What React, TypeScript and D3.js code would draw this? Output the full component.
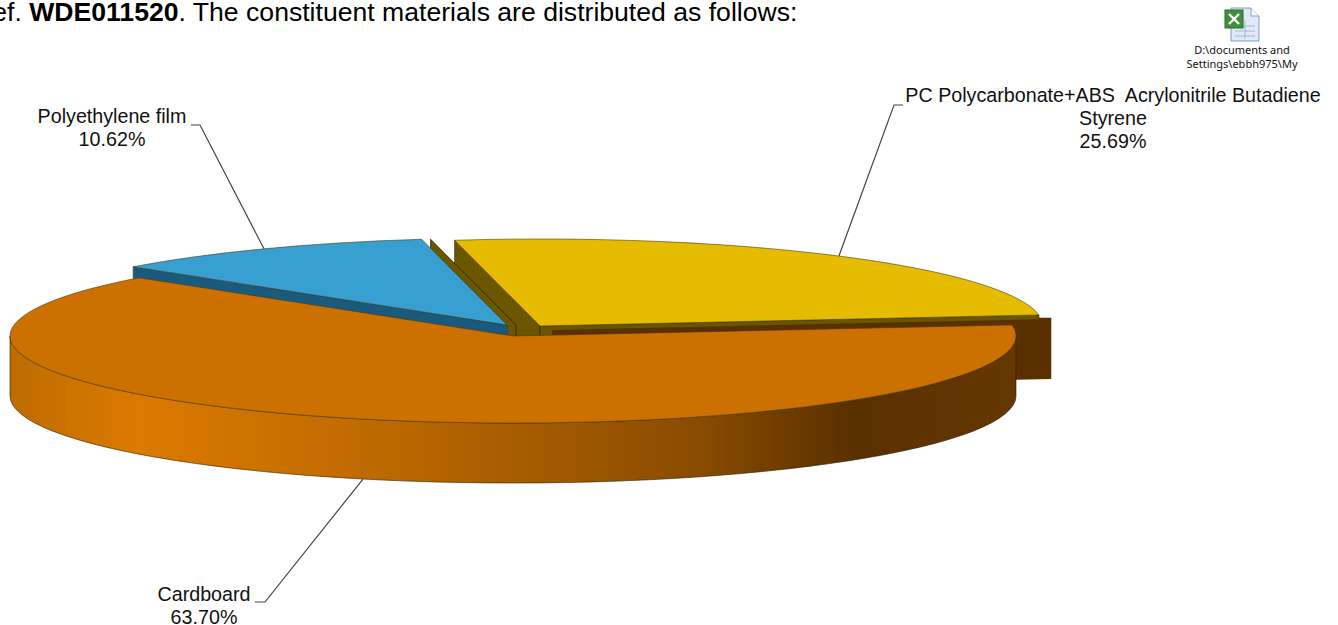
import { useMemo } from 'react';
import * as d3 from 'd3';

const categories = ['Cardboard', 'Polyethylene film', 'PC Polycarbonate+ABS  Acrylonitrile Butadiene Styrene'];
const labelLines = [['Cardboard'], ['Polyethylene film'], ['PC Polycarbonate+ABS  Acrylonitrile Butadiene', 'Styrene']];
const values = [63.7, 10.62, 25.69];
const topColors = ['#cc7000', '#38a0d0', '#e6bc00'];
const offsets = [[0, 0], [-6, -11], [27, -10]];
const labelPos = [[204, 601], [112, 123], [1113, 102]];
const elbows = [[265, 602], [200, 125], [894, 105]];
const stubs = [[255, 602], [191, 125], [903, 105]];

const width = 1338;
const height = 625;
const cx = 513;
const cy = 336;
const rx = 503;
const ry = 87;
const depth = 60;
const startDeg = -7.3;

const rad = (d: number) => (d * Math.PI) / 180;

// angles from d3.pie are clockwise from 12 o'clock
const pieGen = d3
  .pie<number>()
  .sort(null)
  .startAngle(rad(startDeg + 90))
  .endAngle(rad(startDeg + 90 + 360));

const arcGen = d3.arc<d3.PieArcDatum<number>>().innerRadius(0).outerRadius(rx);

const project = (a: number, ox = 0, oy = 0, r = rx) => [
  cx + ox + r * Math.sin(a),
  cy + oy - (r * ry * Math.cos(a)) / rx,
];

const line = d3.line();

const quad = (a: number, ox: number, oy: number, d: number) => {
  const p = project(a, ox, oy);
  const c = [cx + ox, cy + oy];
  return line([p as [number, number], c as [number, number], [c[0], c[1] + d], [p[0], p[1] + d]]) + 'Z';
};

const rimPath = (a0: number, a1: number, ox = 0, oy = 0, r = rx) => {
  const pts = d3.range(0, 61).map((i) => project(a0 + ((a1 - a0) * i) / 60, ox, oy, r) as [number, number]);
  const low = pts.map((p) => [p[0], p[1] + depth] as [number, number]).reverse();
  return line([...pts, ...low]) + 'Z';
};

const edge = '#2a1c00';

export default function App() {
  const slices = useMemo(() => pieGen(values), []);
  const [orange, blue, yellow] = slices;
  const face = (s: d3.PieArcDatum<number>, i: number) => (
    <path
      d={arcGen(s) as string}
      transform={`translate(${cx + offsets[i][0]},${cy + offsets[i][1]}) scale(1,${ry / rx})`}
      fill={topColors[i]}
      stroke="#4a3a10"
      strokeWidth={0.6}
      vectorEffect="non-scaling-stroke"
    />
  );
  const yTip = project(yellow.endAngle, offsets[2][0], offsets[2][1]);

  return (
    <svg
      width={width}
      height={height}
      viewBox={`0 0 ${width} ${height}`}
      style={{ position: 'absolute', left: 0, top: 0, display: 'block', background: '#fff' }}
    >
      <defs>
        <linearGradient id="rim" gradientUnits="userSpaceOnUse" x1={cx - rx} x2={cx + rx} y1={0} y2={0}>
          <stop offset="0" stopColor="#bd6c00" />
          <stop offset="0.13" stopColor="#dc7a00" />
          <stop offset="0.4" stopColor="#b86600" />
          <stop offset="0.68" stopColor="#8a4c00" />
          <stop offset="0.84" stopColor="#5a3000" />
          <stop offset="1" stopColor="#663800" />
        </linearGradient>
      </defs>

      <text x={-16.6} y={21} fontFamily="Liberation Sans" fontSize={26.6} fill="#000">
        ref. <tspan fontWeight="bold">WDE011520</tspan>. The constituent materials are distributed as follows:
      </text>

      {/* embedded workbook icon */}
      <g>
        <path d="M1231 8H1251L1259 16V41H1231Z" fill="#dfe9f7" stroke="#7d9cc8" strokeWidth={1} />
        <path d="M1251 8V16H1259" fill="#fff" stroke="#7d9cc8" strokeWidth={1} />
        <path d="M1235 26H1255M1235 31H1255M1235 36H1255M1245 20V39" stroke="#9db6d8" strokeWidth={1} fill="none" />
        <rect x={1225} y={10} width={18} height={18} fill="#3f8f3c" stroke="#2c6b2b" />
        <path d="M1229 14L1239 24M1239 14L1229 24" stroke="#fff" strokeWidth={2.4} />
        <text x={1242} y={54} textAnchor="middle" fontFamily="Noto Sans" fontSize={11} fill="#111">
          D:\documents and
        </text>
        <text x={1242} y={68} textAnchor="middle" fontFamily="Noto Sans" fontSize={11} fill="#111">
          Settings\ebbh975\My
        </text>
      </g>

      {/* walls, back to front */}
      <path
        d={quad(yellow.startAngle, offsets[2][0], offsets[2][1], depth)}
        fill="#6b5600"
        stroke={edge}
        strokeWidth={0.6}
      />
      <rect
        x={yTip[0] - 30}
        y={cy + offsets[2][1] - 8}
        width={cx + offsets[2][0] + rx + 8 - (yTip[0] - 30)}
        height={depth}
        fill="#5a3000"
        stroke="#3a2000"
        strokeWidth={0.5}
      />
      <path d={quad(yellow.endAngle, offsets[2][0], offsets[2][1], depth)} fill="#6b5600" stroke={edge} strokeWidth={0.6} />
      <path d={quad(yellow.endAngle, offsets[2][0] + 12, offsets[2][1] + 4, depth)} fill="#5a3000" />
      <path
        d={quad(blue.endAngle, offsets[1][0] + 9, offsets[1][1], depth)}
        fill="#6b5600"
        stroke={edge}
        strokeWidth={0.8}
      />
      <path d={quad(blue.startAngle, offsets[1][0], offsets[1][1], depth)} fill="#1a5a7c" stroke="#123c52" strokeWidth={0.6} />
      {face(blue, 1)}
      {face(yellow, 2)}

      <path d={rimPath(rad(90), rad(270))} fill="url(#rim)" stroke={edge} strokeWidth={0.6} />
      {face(orange, 0)}

      {/* leaders and labels */}
      {slices.map((s, i) => {
        const mid = (s.startAngle + s.endAngle) / 2;
        const p = project(mid, offsets[i][0], offsets[i][1]);
        const y0 = i === 0 ? p[1] + depth : p[1];
        return (
          <path
            key={categories[i]}
            d={line([[p[0], y0], elbows[i] as [number, number], stubs[i] as [number, number]]) as string}
            fill="none"
            stroke="#444"
            strokeWidth={1.2}
          />
        );
      })}
      {labelLines.map((lines, i) => (
        <text
          key={categories[i]}
          textAnchor="middle"
          fontFamily="Liberation Sans"
          fontSize={19.7}
          fill="#111"
        >
          {[...lines, `${values[i].toFixed(2)}%`].map((t, j) => (
            <tspan key={j} x={labelPos[i][0]} y={labelPos[i][1] + j * 23} xmlSpace="preserve">
              {t}
            </tspan>
          ))}
        </text>
      ))}
    </svg>
  );
}
